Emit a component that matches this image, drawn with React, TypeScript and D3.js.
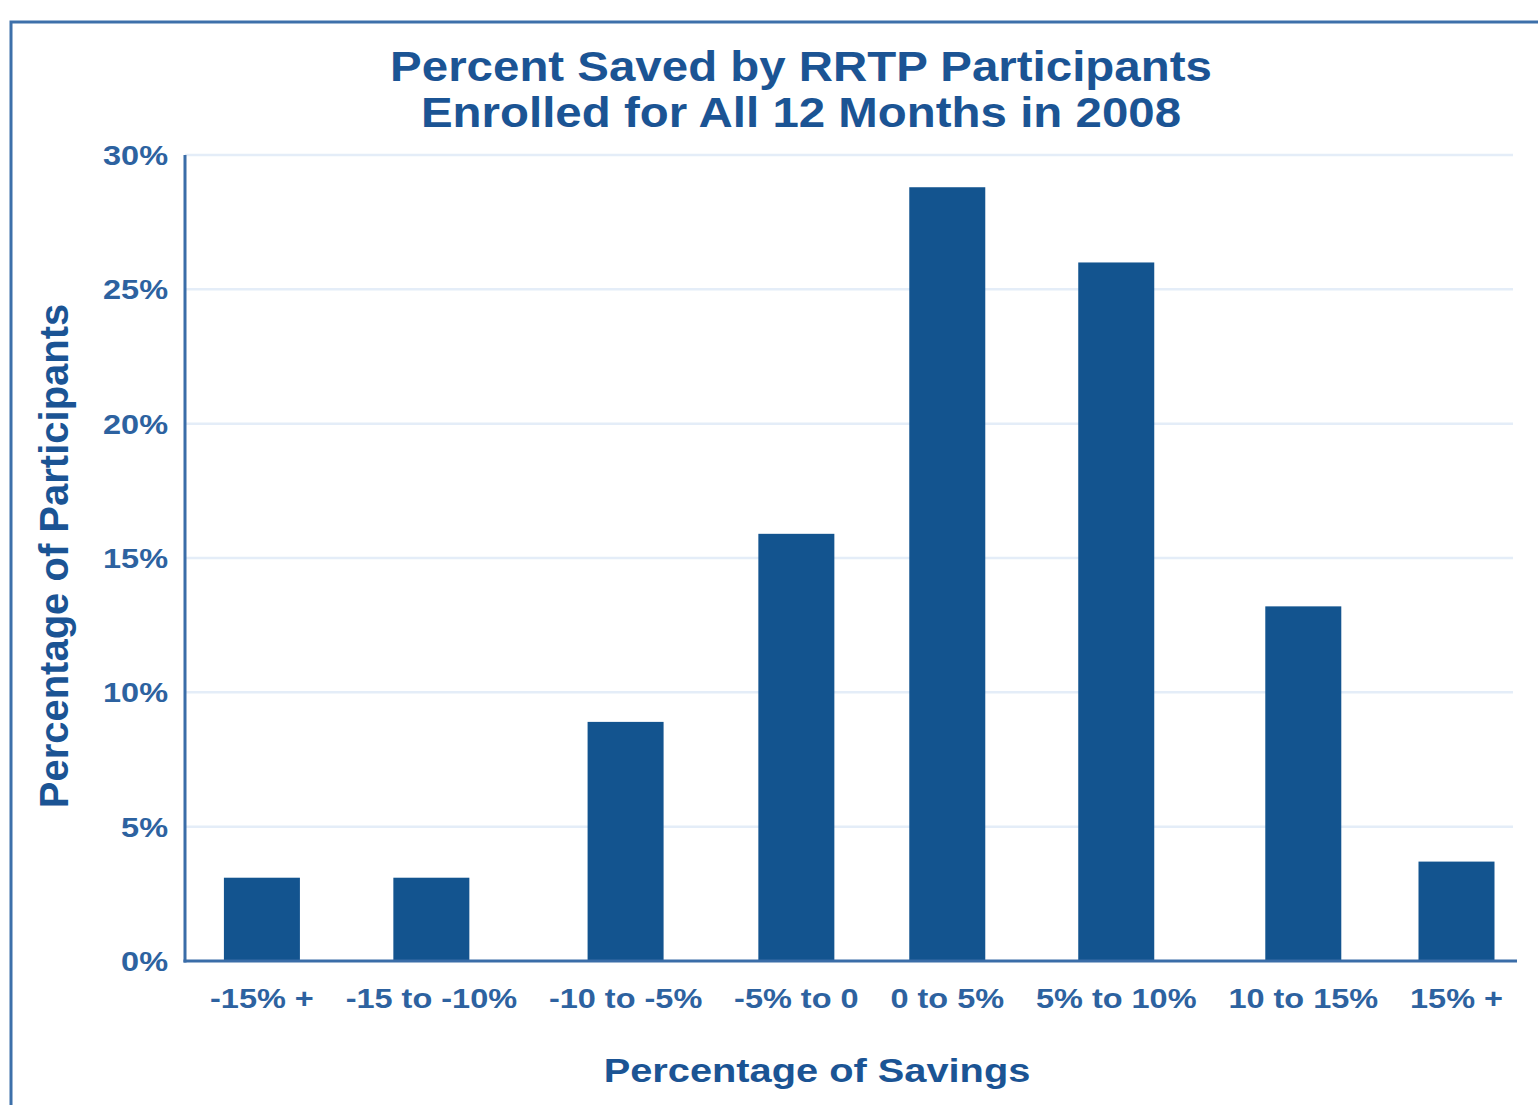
import { useEffect, useRef } from "react";
import * as d3 from "d3";

const categories = [
  "-15% +",
  "-15 to -10%",
  "-10 to -5%",
  "-5% to 0",
  "0 to 5%",
  "5% to 10%",
  "10 to 15%",
  "15% +",
];
const participants = [3.1, 3.1, 8.9, 15.9, 28.8, 26.0, 13.2, 3.7];
const yTicks = [0, 5, 10, 15, 20, 25, 30];
const titleLines = [
  "Percent Saved by RRTP Participants",
  "Enrolled for All 12 Months in 2008",
];
const xTitle = "Percentage of Savings";
const yTitle = "Percentage of Participants";

const font = "'Liberation Sans', Arial, Helvetica, sans-serif";
const barColor = "#13548f";
const textColor = "#1b5494";
const tickColor = "#2d62a0";
const axisColor = "#3a6da8";
const gridColor = "#e4edf8";
const frameColor = "#3d70aa";

export default function App() {
  const ref = useRef<SVGSVGElement>(null);

  useEffect(() => {
    document.body.style.margin = "0";
    const svg = d3.select(ref.current);
    svg.selectAll("*").remove();

    const plotLeft = 185;
    const plotRight = 1515;
    const y = d3.scaleLinear().domain([0, 30]).range([961, 155]);

    // frame running off the right and bottom edges
    svg
      .append("rect")
      .attr("x", 11)
      .attr("y", 22)
      .attr("width", 1700)
      .attr("height", 1300)
      .attr("fill", "none")
      .attr("stroke", frameColor)
      .attr("stroke-width", 3);

    // gridlines
    svg
      .append("g")
      .selectAll("line")
      .data(yTicks.filter((t) => t > 0))
      .join("line")
      .attr("x1", plotLeft)
      .attr("x2", plotRight - 2)
      .attr("y1", (d) => y(d))
      .attr("y2", (d) => y(d))
      .attr("stroke", gridColor)
      .attr("stroke-width", 2.5);

    // x labels, measured to lay out the categories
    const labelSx = 1.16;
    const xLabels = svg
      .append("g")
      .selectAll("text")
      .data(categories)
      .join("text")
      .attr("font-family", font)
      .attr("font-weight", "bold")
      .attr("font-size", 28)
      .attr("fill", tickColor)
      .attr("text-anchor", "middle")
      .text((d) => d);

    const widths = xLabels
      .nodes()
      .map((n) => (n as SVGTextElement).getComputedTextLength() * labelSx);
    const left = 210;
    const right = 1503;
    const gap = (right - left - d3.sum(widths)) / (categories.length - 1);
    let cursor = left;
    const centers = widths.map((w) => {
      const c = cursor + w / 2;
      cursor += w + gap;
      return c;
    });
    const x = d3.scaleOrdinal<string, number>().domain(categories).range(centers);
    const barW = 76;

    xLabels.attr(
      "transform",
      (d) => `translate(${x(d)},1008) scale(${labelSx},1)`
    );

    // bars
    svg
      .append("g")
      .selectAll("rect")
      .data(participants)
      .join("rect")
      .attr("x", (d, i) => x(categories[i]) - barW / 2)
      .attr("y", (d) => y(d))
      .attr("width", barW)
      .attr("height", (d) => y(0) - y(d))
      .attr("fill", barColor);

    // axes
    svg
      .append("line")
      .attr("x1", plotLeft)
      .attr("x2", plotLeft)
      .attr("y1", y(30))
      .attr("y2", y(0) + 1.5)
      .attr("stroke", axisColor)
      .attr("stroke-width", 3);
    svg
      .append("line")
      .attr("x1", plotLeft - 1.5)
      .attr("x2", plotRight + 2)
      .attr("y1", y(0))
      .attr("y2", y(0))
      .attr("stroke", axisColor)
      .attr("stroke-width", 3);

    // y tick labels
    svg
      .append("g")
      .selectAll("text")
      .data(yTicks)
      .join("text")
      .attr("transform", (d) => `translate(168,${y(d) + 10}) scale(1.16,1)`)
      .attr("text-anchor", "end")
      .attr("font-family", font)
      .attr("font-weight", "bold")
      .attr("font-size", 28)
      .attr("fill", tickColor)
      .text((d) => `${d}%`);

    // title
    svg
      .append("g")
      .selectAll("text")
      .data(titleLines)
      .join("text")
      .attr("transform", (d, i) => `translate(801,${81 + i * 46}) scale(1.13,1)`)
      .attr("text-anchor", "middle")
      .attr("font-family", font)
      .attr("font-weight", "bold")
      .attr("font-size", 42)
      .attr("fill", textColor)
      .text((d) => d);

    // axis titles
    svg
      .append("text")
      .attr("transform", "translate(817,1082) scale(1.17,1)")
      .attr("text-anchor", "middle")
      .attr("font-family", font)
      .attr("font-weight", "bold")
      .attr("font-size", 34)
      .attr("fill", textColor)
      .text(xTitle);

    svg
      .append("text")
      .attr("transform", "translate(68,556) rotate(-90)")
      .attr("text-anchor", "middle")
      .attr("font-family", font)
      .attr("font-weight", "bold")
      .attr("font-size", 40)
      .attr("fill", textColor)
      .text(yTitle);
  }, []);

  return (
    <svg
      ref={ref}
      width={1538}
      height={1105}
      style={{ display: "block", background: "#fff" }}
    />
  );
}
